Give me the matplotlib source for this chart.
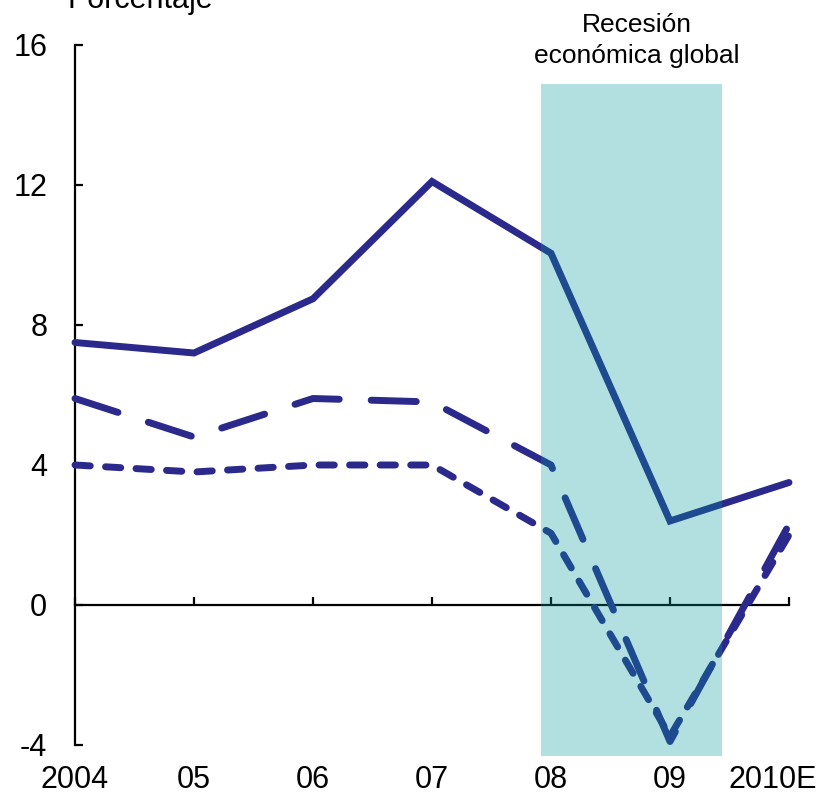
import matplotlib
matplotlib.use('Agg')
import matplotlib.pyplot as plt
import matplotlib.transforms as mtransforms

plt.rcParams['font.family'] = ['Liberation Sans', 'DejaVu Sans']

years = ['2004', '05', '06', '07', '08', '09', '2010E']
solid = [7.5, 7.2, 8.75, 12.1, 10.05, 2.4, 3.5]
long_dash = [5.9, 4.8, 5.9, 5.8, 4.0, -3.9, 2.3]
short_dash = [4.0, 3.8, 4.0, 4.0, 2.05, -3.75, 2.0]
yticks = [-4, 0, 4, 8, 12, 16]
recession = (3.92, 5.44)

line_color = '#2b2a8c'
shade_color = '#009999'

fig = plt.figure(figsize=(8.21, 7.95), dpi=100)
ax = fig.add_axes([75 / 821, 39.5 / 795, 714 / 821, 710.5 / 795])

x = range(len(years))
lw = 5
ax.plot(x, solid, color=line_color, lw=lw, solid_capstyle='round',
        solid_joinstyle='miter', clip_on=False, zorder=3)
ax.plot(x, long_dash, color=line_color, lw=lw, dashes=(6.5, 4.6),
        dash_capstyle='round', clip_on=False, zorder=3)
ax.plot(x, short_dash, color=line_color, lw=lw, dashes=(2.2, 2.2),
        dash_capstyle='round', clip_on=False, zorder=3)

# recession band sits on top of the lines, semi transparent
ax.axvspan(recession[0], recession[1], ymin=0, ymax=(14.9 + 4.3) / 20.3,
           color=shade_color, alpha=0.3, lw=0, zorder=5)

ax.set_xlim(0, 6)
ax.set_ylim(-4.3, 16)
ax.set_yticks(yticks)
ax.set_yticklabels([str(v) for v in yticks])
ax.set_xticks(list(x))
ax.set_xticklabels([])

for s in ['top', 'right']:
    ax.spines[s].set_visible(False)
ax.spines['bottom'].set_position(('data', 0))
ax.spines['left'].set_bounds(-4, 16)
for s in ['left', 'bottom']:
    ax.spines[s].set_linewidth(1.6)
    ax.spines[s].set_zorder(2)

ax.tick_params(axis='both', direction='in', length=6, width=1.6)
ax.tick_params(axis='y', labelsize=22, pad=20)
ax.patch.set_visible(False)

trans = mtransforms.blended_transform_factory(ax.transData, fig.transFigure)
for i, lab in enumerate(years):
    xpos = i if i < len(years) - 1 else 5.86
    ax.text(xpos, 0.5 / 795, lab, transform=trans, ha='center',
            va='bottom', fontsize=22)

fig.text(140 / 821, 1 - 8 / 795, 'Porcentaje', ha='center', va='baseline',
         fontsize=22)
fig.text(637 / 821, 1 - 32 / 795, 'Recesión', ha='center', va='baseline',
         fontsize=19)
fig.text(637 / 821, 1 - 63 / 795, 'económica global', ha='center',
         va='baseline', fontsize=19)

fig.savefig('out.png', dpi=100)
